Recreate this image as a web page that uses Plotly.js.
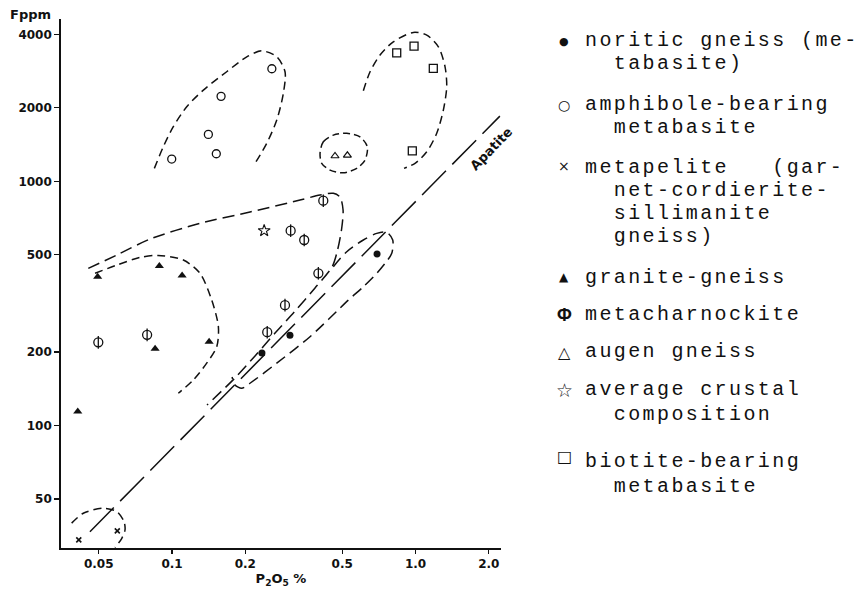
<!DOCTYPE html>
<html><head><meta charset="utf-8">
<script src="https://cdn.plot.ly/plotly-3.0.1.min.js"></script>
<style>html,body{margin:0;padding:0;background:#fff}#chart{width:862px;height:592px}</style>
</head><body><div id="chart"></div>
<script>
// ---------------- data (P2O5 %, F ppm) ----------------
const noriticP = [0.234, 0.305, 0.695];
const noriticF = [198, 234, 504];
const amphP = [0.0997, 0.141, 0.152, 0.159, 0.257];
const amphF = [1234, 1557, 1297, 2229, 2892];
const metapeliteP = [0.0414, 0.0596];
const metapeliteF = [34.0, 37.0];
const graniteP = [0.041, 0.0495, 0.0852, 0.0887, 0.110, 0.142];
const graniteF = [114, 407, 206, 450, 411, 220];
const charnP = [0.0498, 0.079, 0.246, 0.291, 0.399, 0.349, 0.307, 0.418];
const charnF = [219, 235, 241, 311, 420, 575, 628, 833];
const augenP = [0.467, 0.525];
const augenF = [1270, 1278];
const crustP = [0.239];
const crustF = [628];
const biotiteP = [0.837, 0.986, 1.183, 0.970];
const biotiteF = [3362, 3581, 2902, 1334];

// apatite reference line
const apatiteP = [0.046, 2.22];
const apatiteF = [36.7, 1850];

// hand-drawn dashed field outlines
const envAmphP = [0.0846,0.0921,0.1012,0.1149,0.1345,0.1677,0.2027,0.2335,0.2692,0.2911,0.2865,0.2692,0.2448,0.2192];
const envAmphF = [1130,1386,1674,2021,2365,2811,3237,3425,3237,2811,2293,1782,1431,1185];
const envBiotP = [0.6105,0.6506,0.7149,0.8104,0.9795,1.112,1.241,1.322,1.343,1.301,1.222,1.112,0.9954,0.897];
const envBiotF = [2350,2811,3290,3730,4075,3973,3557,2946,2440,1959,1573,1322,1185,1130];
const envAugenP = [0.4053,0.4181,0.4597,0.5219,0.5915,0.634,0.6203,0.5735,0.5053,0.4456,0.4118,0.4053];
const envAugenF = [1302,1453,1547,1573,1522,1386,1222,1130,1084,1112,1185,1302];
const envCharnP = [0.0453,0.0593,0.0812,0.1303,0.209,0.3355,0.4053,0.4597,0.4897,0.504,0.4977,0.4783,0.4541,0.3866,0.32,0.2649,0.2192,0.1814,0.1392];
const envCharnF = [440,499,580,673,749,838,879,893,862,763,644,523,446,366,294,239,192.6,156.5,121.3];
const envNoritP = [0.4597,0.5219,0.6105,0.6928,0.7616,0.806,0.7985,0.7494,0.6928,0.6105,0.5297,0.3687,0.2692,0.209,0.1932,0.1814,0.1764];
const envNoritF = [447,515,575,612,618,575,507,461,420,370,326,231,180,148.9,142,146.6,158];
const envGranP = [0.0483,0.0593,0.0739,0.0876,0.1113,0.1303,0.1456,0.155,0.1526,0.1388,0.1223,0.1061];
const envGranF = [420,454,488,497,476,420,326,254,210,180,153.5,135.5];
const envMetaP = [0.0387,0.0432,0.0522,0.0593,0.0635,0.0641,0.0622,0.0583];
const envMetaF = [39.8,43.7,45.8,44.4,40.4,37.3,34.5,31.6];

// ticks
const xTickVals = [0.05, 0.1, 0.2, 0.5, 1.0, 2.0];
const xTickText = ['0.05', '0.1', '0.2', '0.5', '1.0', '2.0'];
const yTickVals = [50, 100, 200, 500, 1000, 2000, 4000];
const yTickText = ['50', '100', '200', '500', '1000', '2000', '4000'];

// legend (typed key)
const legendSymbols = ['\u25CF', '\u25CB', '\u00D7', '\u25B2', '\u03A6', '\u25B3', '\u2606', '\u25A1'];
const legendLabels = [
  ['noritic gneiss (me-', 'tabasite)'],
  ['amphibole-bearing', 'metabasite'],
  ['metapelite\u00a0\u00a0\u00a0(gar-', 'net-cordierite-', 'sillimanite', 'gneiss)'],
  ['granite-gneiss'],
  ['metacharnockite'],
  ['augen gneiss'],
  ['average crustal', 'composition'],
  ['biotite-bearing', 'metabasite']
];

// ---------------- layout geometry ----------------
const W = 862, H = 592, M = {l: 61, r: 361, t: 19, b: 44};
const pw = W - M.l - M.r, ph = H - M.t - M.b;
const px2x = px => (px - M.l) / pw;
const px2y = py => (H - M.b - py) / ph;
const legendRowY = [[41, 63], [104.5, 127.5], [167.5, 190, 214, 236.5], [277.5], [314], [351], [389, 414], [461, 486]];
const legendSymY = [41.7, 105.3, 166, 277, 315, 352.7, 390, 456.7];
const legendSymSize = [11, 14, 14, 12, 18, 16, 19, 16];
const legendSymFont = ['DejaVu Sans', 'DejaVu Sans', 'DejaVu Sans', 'DejaVu Sans', 'Liberation Sans', 'DejaVu Sans', 'DejaVu Sans', 'DejaVu Sans'];
const legendSymWeight = ['normal','normal','normal','normal','bold','normal','normal','normal'];

const INK = '#111111';
const env = (xs, ys, dash) => ({
  x: xs, y: ys, type: 'scatter', mode: 'lines', hoverinfo: 'skip', showlegend: false,
  line: {color: INK, width: 1.5, dash: dash || '8px,5px', shape: 'spline', smoothing: 0.8}
});
const pts = (xs, ys, name, marker) => ({
  x: xs, y: ys, type: 'scatter', mode: 'markers', name: name, showlegend: false,
  marker: Object.assign({color: INK}, marker)
});

const traces = [
  env(envAmphP, envAmphF, '8px,5px'),
  env(envBiotP, envBiotF, '8px,5px'),
  env(envAugenP, envAugenF, '7px,4px'),
  env(envCharnP, envCharnF, '12px,6px'),
  env(envNoritP, envNoritF, '11px,6px'),
  env(envGranP, envGranF, '8px,5px'),
  env(envMetaP, envMetaF, '8px,5px'),
  {x: apatiteP, y: apatiteF, type: 'scatter', mode: 'lines', hoverinfo: 'skip', showlegend: false,
   line: {color: INK, width: 1.5, dash: '34px,9px'}},
  pts(noriticP, noriticF, 'noritic gneiss', {symbol: 'circle', size: 7}),
  pts(amphP, amphF, 'amphibole-bearing metabasite', {symbol: 'circle-open', size: 8, line: {color: INK, width: 1.3}}),
  pts(metapeliteP, metapeliteF, 'metapelite', {symbol: 'x-thin-open', size: 5, line: {color: INK, width: 1.6}}),
  pts(graniteP, graniteF, 'granite-gneiss', {symbol: 'triangle-up', size: 8}),
  pts(charnP, charnF, 'metacharnockite', {symbol: 'circle-open', size: 9, line: {color: INK, width: 1.3}}),
  pts(charnP, charnF, 'metacharnockite', {symbol: 'line-ns-open', size: 9, line: {color: INK, width: 1.3}}),
  pts(augenP, augenF, 'augen gneiss', {symbol: 'triangle-up-open', size: 7, line: {color: INK, width: 1.2}}),
  pts(crustP, crustF, 'average crustal composition', {symbol: 'star-open', size: 9, line: {color: INK, width: 1.1}}),
  pts(biotiteP, biotiteF, 'biotite-bearing metabasite', {symbol: 'square-open', size: 8, line: {color: INK, width: 1.3}})
];

const annotations = [];
annotations.push({xref: 'paper', yref: 'paper', x: px2x(30), y: px2y(15), xanchor: 'center', yanchor: 'middle',
  text: 'Fppm', showarrow: false, font: {family: 'DejaVu Sans', size: 13, weight: 'bold', color: INK}});
annotations.push({xref: 'x', yref: 'y', x: Math.log10(2.05), y: Math.log10(1365), xanchor: 'center', yanchor: 'middle',
  text: 'Apatite', textangle: -46, showarrow: false, font: {family: 'DejaVu Sans', size: 13, weight: 'bold', color: INK}});
legendLabels.forEach((lines, i) => {
  annotations.push({xref: 'paper', yref: 'paper', x: px2x(564), y: px2y(legendSymY[i]), xanchor: 'center', yanchor: 'middle',
    text: legendSymbols[i], showarrow: false,
    font: {family: legendSymFont[i], size: legendSymSize[i], weight: legendSymWeight[i], color: INK}});
  lines.forEach((ln, j) => {
    annotations.push({xref: 'paper', yref: 'paper', x: px2x(583), y: px2y(legendRowY[i][j]), xanchor: 'left', yanchor: 'middle',
      align: 'left', text: (j > 0 ? '\u00a0\u00a0' : '') + ln, showarrow: false,
      font: {family: 'Liberation Mono', size: 20, color: INK}});
  });
});

const layout = {
  width: W, height: H, margin: M, paper_bgcolor: '#fff', plot_bgcolor: '#fff', showlegend: false,
  xaxis: {type: 'log', range: [-1.456, 0.351], showgrid: false, zeroline: false, showline: true,
    linecolor: INK, linewidth: 1.6, ticks: 'outside', ticklen: 4, tickwidth: 1.2, tickcolor: INK,
    tickvals: xTickVals, ticktext: xTickText,
    tickfont: {family: 'DejaVu Sans', size: 12, weight: 'bold', color: INK},
    title: {text: 'P<sub>2</sub>O<sub>5</sub> %', standoff: 4, font: {family: 'DejaVu Sans', size: 13, weight: 'bold', color: INK}}},
  yaxis: {type: 'log', range: [1.498, 3.665], showgrid: false, zeroline: false, showline: true,
    linecolor: INK, linewidth: 1.8, ticks: 'outside', ticklen: 5, tickwidth: 1.2, tickcolor: INK,
    tickvals: yTickVals, ticktext: yTickText,
    tickfont: {family: 'DejaVu Sans', size: 12, weight: 'bold', color: INK}},
  annotations: annotations
};

Plotly.newPlot('chart', traces, layout, {staticPlot: true}).then(gd => {
  gd.querySelectorAll('.annotation-text').forEach(t => {
    if ((t.style.fontFamily || '').indexOf('Liberation Mono') >= 0) t.style.letterSpacing = '2.4px';
  });
});
</script></body></html>
